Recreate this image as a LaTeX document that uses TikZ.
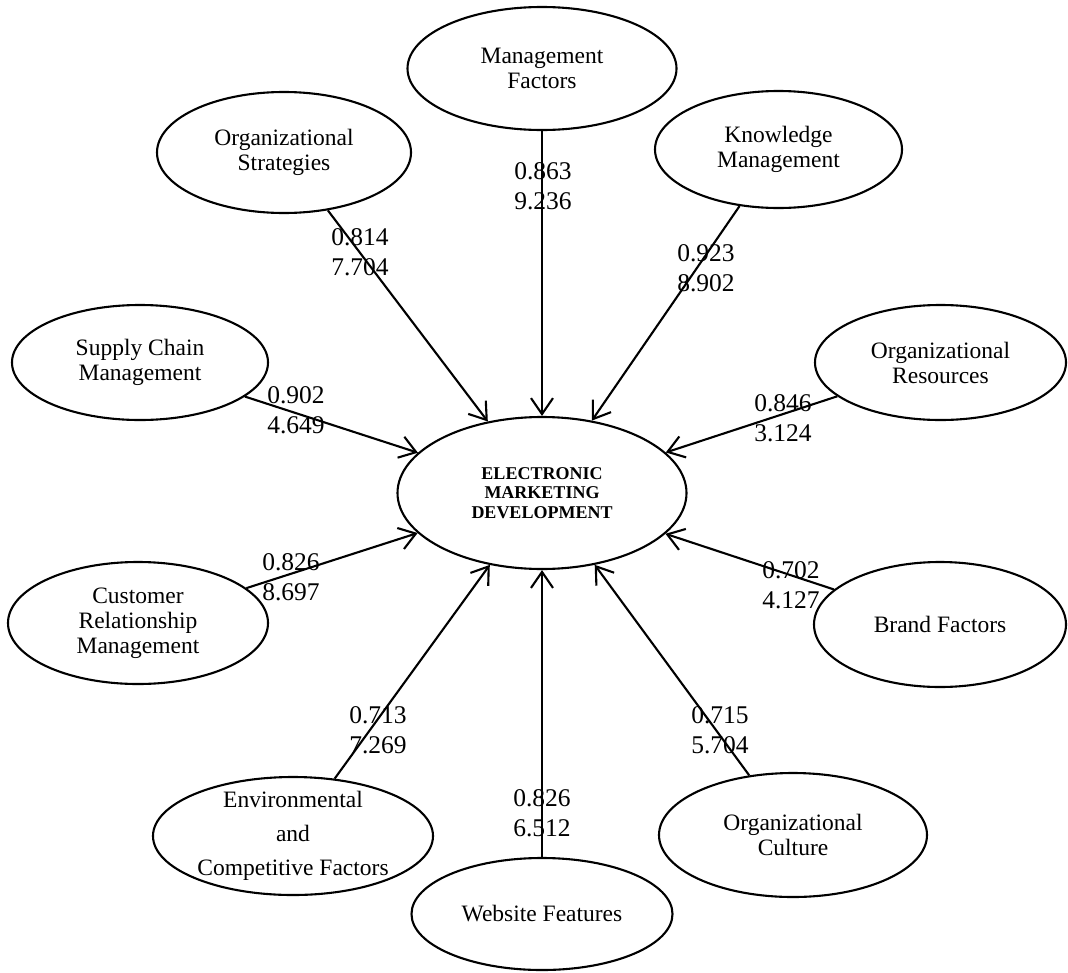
\documentclass[tikz,border=0pt]{standalone}
\usepackage{fontspec}
\setmainfont{Liberation Serif}
\usetikzlibrary{shapes.geometric,arrows.meta}
\begin{document}
\begin{tikzpicture}[x=1pt,y=-1pt,
  factor/.style={ellipse,draw,line width=2.1pt,inner sep=0pt,align=center,
    font=\fontsize{23.5pt}{25pt}\selectfont},
  coef/.style={align=center,inner sep=0pt,font=\fontsize{25.5pt}{30pt}\selectfont},
  link/.style={line width=2.1pt,-{Straight Barb[length=16pt,width=22pt]}}]
\useasboundingbox (0,0) rectangle (1068,972);
% central construct
\node[factor,minimum width=289pt,minimum height=152pt,
  font=\fontsize{18pt}{19.5pt}\selectfont\bfseries] (emd) at (542,493)
  {ELECTRONIC\\MARKETING\\DEVELOPMENT};
% factors
\node[factor,minimum width=269pt,minimum height=123pt] (mgmt) at (542,68.5) {Management\\Factors};
\node[factor,minimum width=254pt,minimum height=121pt] (strat) at (284,152.5) {Organizational\\Strategies};
\node[factor,minimum width=247pt,minimum height=117pt] (know) at (778.5,149.5) {Knowledge\\Management};
\node[factor,minimum width=256pt,minimum height=115pt] (scm) at (140,362.5) {Supply Chain\\Management};
\node[factor,minimum width=251pt,minimum height=115pt] (res) at (940.5,362.5) {Organizational\\Resources};
\node[factor,minimum width=260pt,minimum height=122pt] (crm) at (138,623) {Customer\\Relationship\\Management};
\node[factor,minimum width=252pt,minimum height=125pt] (brand) at (940,624.5) {Brand Factors};
\node[factor,minimum width=280pt,minimum height=118pt,inner ysep=-10pt,
  font=\fontsize{23.5pt}{34pt}\selectfont] (env) at (293,836) {Environmental\\and\\Competitive Factors};
\node[factor,minimum width=268pt,minimum height=124pt] (cult) at (793,835) {Organizational\\Culture};
\node[factor,minimum width=261pt,minimum height=112pt] (web) at (542,914) {Website Features};
% connectors
\draw[link] (mgmt) -- (emd);
\draw[link] (strat) -- (emd);
\draw[link] (know) -- (emd);
\draw[link] (scm) -- (emd);
\draw[link] (res) -- (emd);
\draw[link] (crm) -- (emd);
\draw[link] (brand) -- (emd);
\draw[link] (env) -- (emd);
\draw[link] (cult) -- (emd);
\draw[link] (web) -- (emd);
% coefficients
\node[coef] (cmgmt) at (543,186) {0.863\\9.236};
\node[coef] (cstrat) at (360,252) {0.814\\7.704};
\node[coef] (cknow) at (706,268) {0.923\\8.902};
\node[coef] (cscm) at (296,410) {0.902\\4.649};
\node[coef] (cres) at (783,418) {0.846\\3.124};
\node[coef] (ccrm) at (291,577) {0.826\\8.697};
\node[coef] (cbrand) at (791,585) {0.702\\4.127};
\node[coef] (cenv) at (378,730) {0.713\\7.269};
\node[coef] (ccult) at (720,730) {0.715\\5.704};
\node[coef] (cweb) at (542,813) {0.826\\6.512};
\end{tikzpicture}
\end{document}
